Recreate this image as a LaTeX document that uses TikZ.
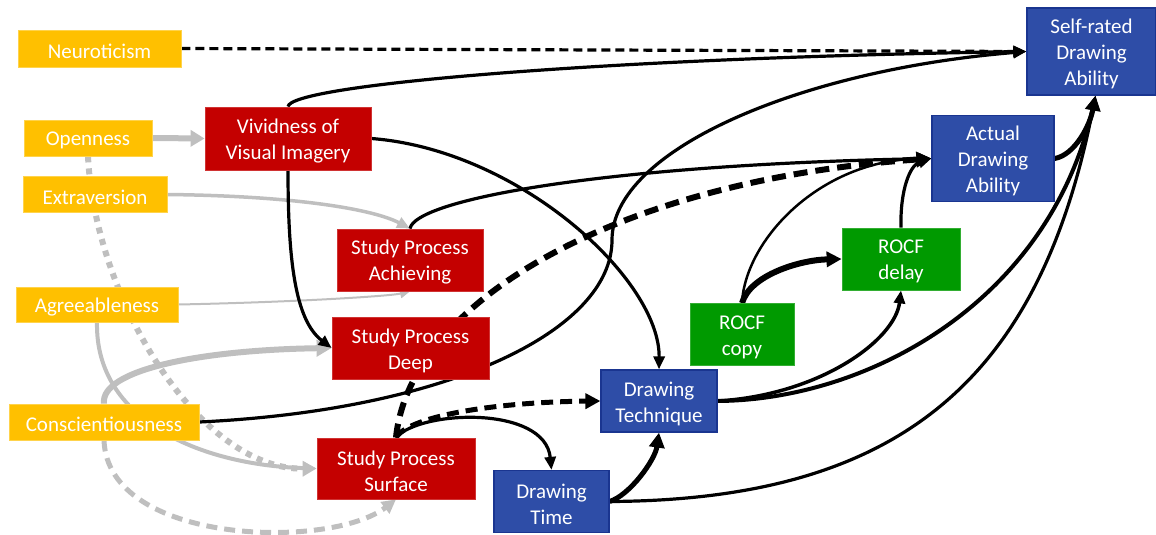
\documentclass[tikz,border=0pt]{standalone}
\usepackage{fontspec}
\setmainfont{Carlito}
\usetikzlibrary{arrows.meta}
\pgfdeclarelayer{bg}
\pgfsetlayers{bg,main}
\definecolor{cyel}{HTML}{FFC000}
\definecolor{cred}{HTML}{C40000}
\definecolor{cblue}{HTML}{2E4DA7}
\definecolor{cblueb}{HTML}{1A3590}
\definecolor{cgreen}{HTML}{009A00}
\definecolor{cgray}{HTML}{BFBFBF}
\tikzset{
  txt/.style={text=white, align=center, inner sep=0pt, yshift=-2.5pt,
    font=\fontsize{21}{26}\selectfont},
  box/.style={rectangle, inner sep=0pt, label={[txt]center:#1}},
  ybox/.style={box=#1, fill=cyel, draw=cyel!70!white, line width=0.8pt},
  rbox/.style={box=#1, fill=cred, draw=cred!80!white, line width=0.8pt},
  bbox/.style={box=#1, fill=cblue, draw=cblueb, line width=1.2pt},
  gbox/.style={box=#1, fill=cgreen, draw=cgreen!80!white, line width=0.8pt},
  tipn/.style={-{Triangle[length=13pt,width=11pt]}},
  tipb/.style={-{Triangle[length=15pt,width=15pt]}},
  tips/.style={-{Triangle[length=10pt,width=9pt]}},
  blk/.style={draw=black, line width=3.2pt, tipn},
  gry/.style={draw=cgray, line width=3pt, tipn},
}
\begin{document}
\begin{tikzpicture}[x=1pt,y=-1pt]
\useasboundingbox (0,0) rectangle (1156,535);
% nodes
\node[ybox={Neuroticism}, minimum width=163pt, minimum height=37pt] (neu) at (99.5,48.5) {};
\node[ybox={Openness}, minimum width=128pt, minimum height=36pt] (open) at (88,138) {};
\node[ybox={Extraversion}, minimum width=144pt, minimum height=36pt] (extra) at (95,194.5) {};
\node[ybox={Agreeableness}, minimum width=162pt, minimum height=35pt] (agree) at (97,304.5) {};
\node[ybox={Conscientiousness}, minimum width=190pt, minimum height=36pt] (consc) at (104,422) {};
\node[rbox={Vividness of\\Visual Imagery}, minimum width=166pt, minimum height=63pt] (viv) at (288,138.5) {};
\node[rbox={Study Process\\Achieving}, minimum width=146pt, minimum height=62pt] (spach) at (410,260) {};
\node[rbox={Study Process\\Deep}, minimum width=157pt, minimum height=62pt] (spdeep) at (410.5,348) {};
\node[rbox={Study Process\\Surface}, minimum width=158pt, minimum height=61pt] (spsurf) at (396,468.5) {};
\node[bbox={Drawing\\Time}, minimum width=115pt, minimum height=62pt] (dtime) at (551.5,501.5) {};
\node[bbox={Drawing\\Technique}, minimum width=116pt, minimum height=62pt] (dt) at (659,401) {};
\node[gbox={ROCF\\copy}, minimum width=104pt, minimum height=62pt] (rcopy) at (742,334.5) {};
\node[gbox={ROCF\\delay}, minimum width=118pt, minimum height=62pt] (rdelay) at (901,259) {};
\node[bbox={Actual\\Drawing\\Ability}, minimum width=122pt, minimum height=86pt] (actual) at (993,158.5) {};
\node[bbox={Self-rated\\Drawing\\Ability}, minimum width=129pt, minimum height=87pt] (self) at (1091.5,51.5) {};
\coordinate (cw) at (612,240);
\coordinate (sin) at ([xshift=4pt]self.south);
% edges
\begin{pgfonlayer}{bg}
% gray
\draw[gry, line width=6pt, -{Triangle[length=14pt,width=16pt]}] (open.east) -- (viv.west);
\draw[gry, line width=3.5pt] (extra.east) .. controls (300,196) and (375,210) .. (spach.north);
\draw[gry, line width=2pt, tips] (agree.east) .. controls (300,302) and (390,296) .. (spach.south);
\draw[gry, line width=6pt, dash pattern=on 6pt off 6pt, -{Triangle[length=14pt,width=15pt]}] (open.south) .. controls (95,300) and (200,470) .. (spsurf.west);
\draw[gry, line width=4pt] (agree.south) .. controls (95,420) and (200,465) .. (spsurf.west);
\draw[gry, line width=6pt, -{Triangle[length=15pt,width=16pt]}] (consc.north) .. controls (100,370) and (200,350) .. (spdeep.west);
\draw[gry, line width=5pt, dash pattern=on 11pt off 7pt, -{Triangle[length=14pt,width=14pt]}] (consc.south) .. controls (108,545) and (330,550) .. (spsurf.south);
% black
\draw[blk, dash pattern=on 9pt off 5pt] (neu.east) -- (self.west);
\draw[blk] (viv.north) .. controls (290,85) and (600,58) .. (self.west);
\draw[blk] (viv.east) .. controls (520,150) and (660,280) .. (dt.north);
\draw[blk] (viv.south) .. controls (288,260) and (295,320) .. (spdeep.west);
\draw[blk] (spach.north) .. controls (415,200) and (600,165) .. (actual.west);
\draw[blk] (consc.east) .. controls (450,410) and (612,330) .. (cw) .. controls (612,150) and (800,70) .. (self.west);
\draw[blk, line width=6pt, dash pattern=on 14pt off 8pt, tipb] (spsurf.north) .. controls (410,300) and (620,180) .. (actual.west);
\draw[blk, line width=5pt, dash pattern=on 12pt off 7pt, tipb] (spsurf.north) .. controls (410,415) and (500,402) .. (dt.west);
\draw[blk] (spsurf.north) .. controls (420,410) and (545,405) .. (dtime.north);
\draw[blk, line width=5pt, tipb] (dtime.east) .. controls (630,495) and (655,460) .. (dt.south);
\draw[blk] (dtime.east) .. controls (900,500) and (1040,380) .. (sin);
\draw[blk, line width=4pt] (dt.east) .. controls (870,400) and (1050,300) .. (sin);
\draw[blk, line width=3.5pt] (dt.east) .. controls (820,395) and (895,340) .. (rdelay.south);
\draw[blk, line width=5pt, tipb] (actual.east) .. controls (1075,155) and (1090,125) .. (sin);
\draw[blk, line width=6pt, tipb] (rcopy.north) .. controls (750,275) and (800,260) .. (rdelay.west);
\draw[blk, line width=2.5pt] (rcopy.north) .. controls (745,240) and (820,160) .. (actual.west);
\draw[blk] (rdelay.north) .. controls (900,190) and (910,165) .. (actual.west);
\end{pgfonlayer}
\end{tikzpicture}
\end{document}
